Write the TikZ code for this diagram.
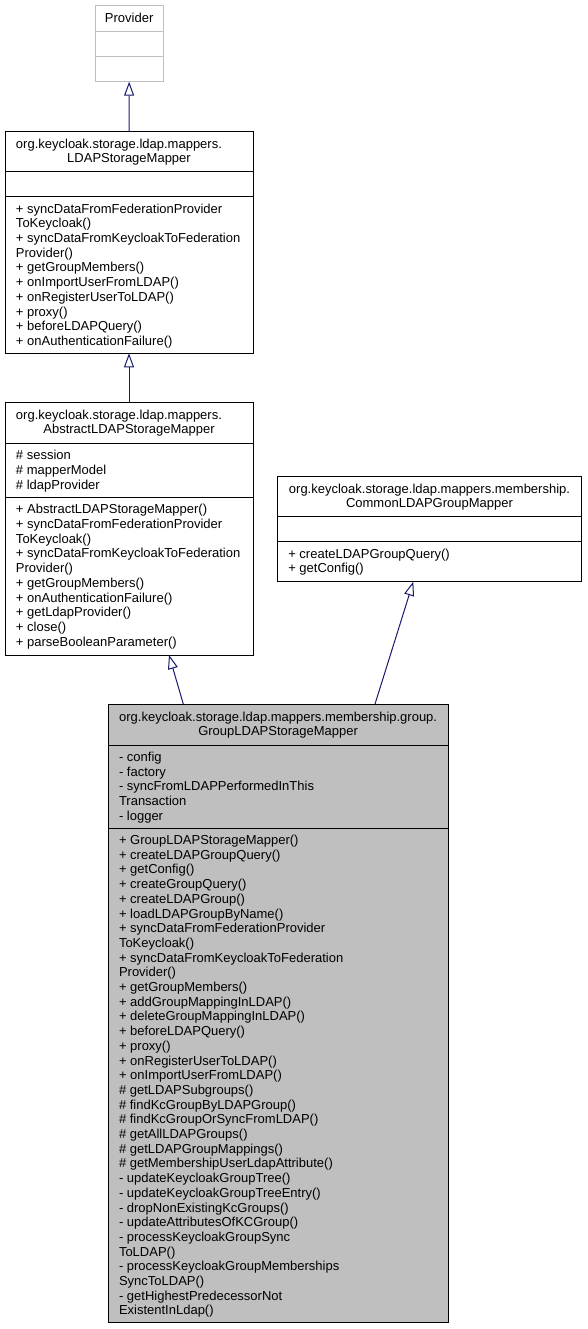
\documentclass[tikz,border=0pt]{standalone}
\usepackage{fontspec}
\setmainfont{Liberation Sans}
\usetikzlibrary{arrows.meta,calc}
\definecolor{edgecol}{HTML}{191970}
\definecolor{lightframe}{HTML}{BFBFBF}
\definecolor{mainfill}{HTML}{BFBFBF}
\tikzset{
  cls/.style={draw=black, line width=1pt, rectangle, inner sep=0pt, outer sep=0pt, anchor=north west},
  sepline/.style={draw=black, line width=1pt},
  txt/.style={inner sep=0pt, outer sep=0pt, font=\fontsize{13}{14.7}\selectfont},
  inh/.style={draw=edgecol, line width=1pt, -{Triangle[length=14pt,width=10pt,fill=white]}},
}
\begin{document}
\begin{tikzpicture}[x=1pt,y=-1pt]
\useasboundingbox (0,0) rectangle (587,1329);

% ---------------- Provider
\node[cls, draw=lightframe, minimum width=67.7pt, minimum height=76pt] (prov) at (95.3,5.7) {};
\draw[sepline, draw=lightframe] ($(prov.north west)+(0,26)$) -- ($(prov.north east)+(0,26)$);
\draw[sepline, draw=lightframe] ($(prov.north west)+(0,51)$) -- ($(prov.north east)+(0,51)$);
\node[txt, anchor=base] (provh) at ($(prov.north)+(0,17)$) {Provider};

% ---------------- LDAPStorageMapper
\node[cls, minimum width=248pt, minimum height=221.6pt] (ldap) at (5,131.7) {};
\draw[sepline] ($(ldap.north west)+(0,40)$) -- ($(ldap.north east)+(0,40)$);
\draw[sepline] ($(ldap.north west)+(0,65)$) -- ($(ldap.north east)+(0,65)$);
\node[txt, anchor=base west] (ldaph1) at (16,148.7) {org.keycloak.storage.ldap.mappers.};
\node[txt, anchor=base] (ldaph2) at ($(ldap.north)+(0,31)$) {LDAPStorageMapper};
\foreach \t [count=\i] in {{+ syncDataFromFederationProvider},{ToKeycloak()},{+ syncDataFromKeycloakToFederation},{Provider()},{+ getGroupMembers()},{+ onImportUserFromLDAP()},{+ onRegisterUserToLDAP()},{+ proxy()},{+ beforeLDAPQuery()},{+ onAuthenticationFailure()}}
  \node[txt, anchor=base west] (ldapm\i) at (16,{213.2+(\i-1)*14.7}) {\t};

% ---------------- AbstractLDAPStorageMapper
\node[cls, minimum width=248pt, minimum height=252.3pt] (abs) at (5,402.7) {};
\draw[sepline] ($(abs.north west)+(0,40.6)$) -- ($(abs.north east)+(0,40.6)$);
\draw[sepline] ($(abs.north west)+(0,94.6)$) -- ($(abs.north east)+(0,94.6)$);
\node[txt, anchor=base west] (absh1) at (16,419.7) {org.keycloak.storage.ldap.mappers.};
\node[txt, anchor=base] (absh2) at ($(abs.north)+(0,31)$) {AbstractLDAPStorageMapper};
\foreach \t [count=\i] in {{\# session},{\# mapperModel},{\# ldapProvider}}
  \node[txt, anchor=base west] (absa\i) at (16,{459.8+(\i-1)*14.7}) {\t};
\foreach \t [count=\i] in {{+ AbstractLDAPStorageMapper()},{+ syncDataFromFederationProvider},{ToKeycloak()},{+ syncDataFromKeycloakToFederation},{Provider()},{+ getGroupMembers()},{+ onAuthenticationFailure()},{+ getLdapProvider()},{+ close()},{+ parseBooleanParameter()}}
  \node[txt, anchor=base west] (absm\i) at (16,{513.8+(\i-1)*14.7}) {\t};

% ---------------- CommonLDAPGroupMapper
\node[cls, minimum width=304.4pt, minimum height=105.7pt] (common) at (277.3,476) {};
\draw[sepline] ($(common.north west)+(0,40.7)$) -- ($(common.north east)+(0,40.7)$);
\draw[sepline] ($(common.north west)+(0,65.7)$) -- ($(common.north east)+(0,65.7)$);
\node[txt, anchor=base] (comh1) at ($(common.north)+(0,17)$) {org.keycloak.storage.ldap.mappers.membership.};
\node[txt, anchor=base] (comh2) at ($(common.north)+(0,31)$) {CommonLDAPGroupMapper};
\foreach \t [count=\i] in {{+ createLDAPGroupQuery()},{+ getConfig()}}
  \node[txt, anchor=base west] (comm\i) at (288.3,{558.2+(\i-1)*14.7}) {\t};

% ---------------- GroupLDAPStorageMapper
\node[cls, fill=mainfill, minimum width=339.7pt, minimum height=618pt] (main) at (108.3,704) {};
\draw[sepline] ($(main.north west)+(0,41)$) -- ($(main.north east)+(0,41)$);
\draw[sepline] ($(main.north west)+(0,124)$) -- ($(main.north east)+(0,124)$);
\node[txt, anchor=base] (mainh1) at ($(main.north)+(0,17)$) {org.keycloak.storage.ldap.mappers.membership.group.};
\node[txt, anchor=base] (mainh2) at ($(main.north)+(0,31)$) {GroupLDAPStorageMapper};
\foreach \t [count=\i] in {{- config},{- factory},{- syncFromLDAPPerformedInThis},{Transaction},{- logger}}
  \node[txt, anchor=base west] (maina\i) at (119,{761.5+(\i-1)*14.7}) {\t};
\foreach \t [count=\i] in {{+ GroupLDAPStorageMapper()},{+ createLDAPGroupQuery()},{+ getConfig()},{+ createGroupQuery()},{+ createLDAPGroup()},{+ loadLDAPGroupByName()},{+ syncDataFromFederationProvider},{ToKeycloak()},{+ syncDataFromKeycloakToFederation},{Provider()},{+ getGroupMembers()},{+ addGroupMappingInLDAP()},{+ deleteGroupMappingInLDAP()},{+ beforeLDAPQuery()},{+ proxy()},{+ onRegisterUserToLDAP()},{+ onImportUserFromLDAP()},{\# getLDAPSubgroups()},{\# findKcGroupByLDAPGroup()},{\# findKcGroupOrSyncFromLDAP()},{\# getAllLDAPGroups()},{\# getLDAPGroupMappings()},{\# getMembershipUserLdapAttribute()},{- updateKeycloakGroupTree()},{- updateKeycloakGroupTreeEntry()},{- dropNonExistingKcGroups()},{- updateAttributesOfKCGroup()},{- processKeycloakGroupSync},{ToLDAP()},{- processKeycloakGroupMemberships},{SyncToLDAP()},{- getHighestPredecessorNot},{ExistentInLdap()}}
  \node[txt, anchor=base west] (mainm\i) at (119,{844.5+(\i-1)*14.7}) {\t};

% ---------------- inheritance connectors
\draw[inh] (ldap.north) -- (prov.south);
\draw[inh] (abs.north) -- (ldap.south);
\coordinate (e3a) at ($(main.north west)+(75,0)$);
\coordinate (e3b) at ($(abs.south west)+(164,0)$);
\coordinate (e4a) at ($(main.north west)+(266.7,0)$);
\coordinate (e4b) at ($(common.south west)+(136,0)$);
\draw[inh] (e3a) -- (e3b);
\draw[inh] (e4a) -- (e4b);
\end{tikzpicture}
\end{document}
